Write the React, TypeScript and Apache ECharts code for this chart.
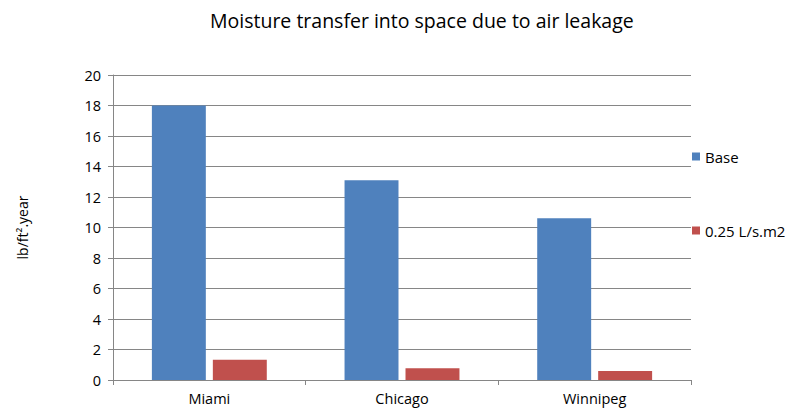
import React, { useEffect, useRef } from "react";
import * as echarts from "echarts";

const categories = ["Miami", "Chicago", "Winnipeg"];
const baseValues = [18.0, 13.1, 10.6];
const leakValues = [1.33, 0.77, 0.59];
const seriesNames = ["Base", "0.25 L/s.m2"];
const titleText = "Moisture transfer into space due to air leakage";
const yAxisName = "lb/ft\u00B2.year";

const FONT = "'Open Sans', sans-serif";

export default function App() {
  const ref = useRef<HTMLDivElement>(null);
  useEffect(() => {
    if (!ref.current) return;
    const chart = echarts.init(ref.current, undefined, { renderer: "svg" });
    chart.setOption({
      animation: false,
      backgroundColor: "#ffffff",
      title: {
        text: titleText,
        left: 205,
        top: 5,
        textStyle: { fontFamily: FONT, fontSize: 19.5, fontWeight: "normal", color: "#000" },
      },
      legend: {
        orient: "vertical",
        left: 687,
        top: 144,
        itemGap: 59,
        itemWidth: 8,
        itemHeight: 8,
        icon: "rect",
        textStyle: { fontFamily: FONT, fontSize: 15, color: "#000" },
        data: seriesNames,
      },
      grid: { left: 113, right: 107, top: 75, bottom: 31 },
      xAxis: {
        type: "category",
        data: categories,
        axisLine: { lineStyle: { color: "#868686" } },
        axisTick: { show: true, length: 5, lineStyle: { color: "#868686" } },
        axisLabel: { fontFamily: FONT, fontSize: 14.5, color: "#000", margin: 11 },
      },
      yAxis: {
        type: "value",
        min: 0,
        max: 20,
        interval: 2,
        name: yAxisName,
        nameLocation: "middle",
        nameGap: 84,
        nameTextStyle: { fontFamily: FONT, fontSize: 14, color: "#000" },
        axisLine: { show: true, lineStyle: { color: "#868686" } },
        axisTick: { show: true, length: 5, lineStyle: { color: "#868686" } },
        axisLabel: { fontFamily: FONT, fontSize: 14.5, color: "#000", margin: 12 },
        splitLine: { lineStyle: { color: "#868686" } },
      },
      series: [
        {
          name: seriesNames[0],
          type: "bar",
          data: baseValues,
          barWidth: "28%",
          barGap: "13%",
          itemStyle: { color: "#4F81BD" },
        },
        {
          name: seriesNames[1],
          type: "bar",
          data: leakValues,
          barWidth: "28%",
          itemStyle: { color: "#C0504D" },
        },
      ],
    });
    return () => chart.dispose();
  }, []);
  return <div ref={ref} style={{ width: 798, height: 411, position: "absolute", left: 0, top: 0 }} />;
}
